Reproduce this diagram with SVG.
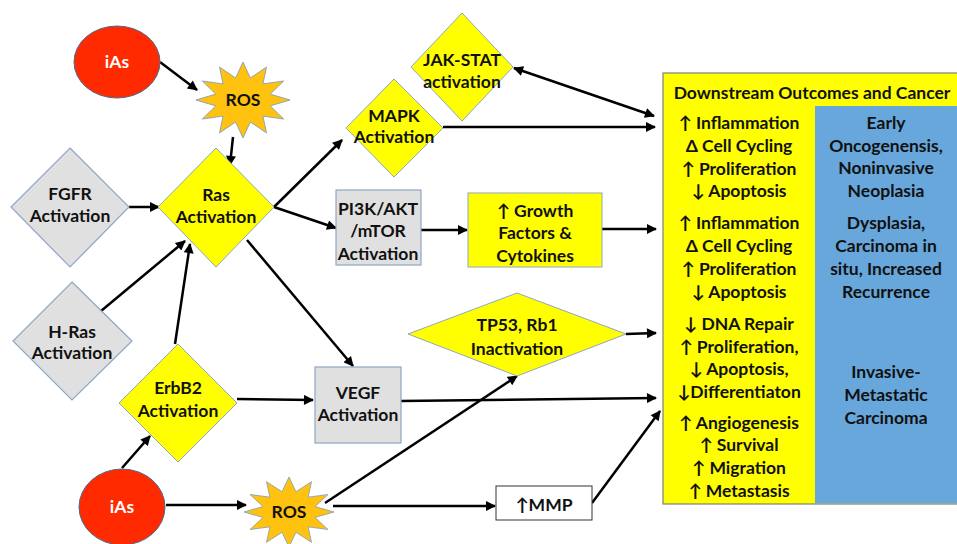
<svg xmlns="http://www.w3.org/2000/svg" xmlns:xlink="http://www.w3.org/1999/xlink" width="957" height="544" viewBox="0 0 957 544">
<style>
  text { font-family: Lato, "Liberation Sans", sans-serif; font-weight: bold; font-size: 17.5px; text-anchor: middle; fill: #111; }
  .ias { fill: #ff2a00; stroke: #4a6a90; stroke-width: 1; }
  .ias-t { fill: #ffffff; }
  .star { fill: #ffc20e; stroke: #7f9bbd; stroke-width: 1; }
  .ydia { fill: #ffff00; stroke: #8fa6c4; stroke-width: 1; }
  .gdia { fill: #e0e0e0; stroke: #8fa6c4; stroke-width: 1.2; }
  .gbox { fill: #e0e0e0; stroke: #8fa6c4; stroke-width: 1.2; }
  .ybox { fill: #ffff00; stroke: #8fa6c4; stroke-width: 1; }
  .wbox { fill: #ffffff; stroke: #333; stroke-width: 1; }
  .conn line { stroke: #000; stroke-width: 2.5; fill: none; }
</style>
<defs>
  <marker id="ah" viewBox="0 0 10 10" refX="9" refY="5" markerWidth="12" markerHeight="10" markerUnits="userSpaceOnUse" orient="auto-start-reverse">
    <path d="M0,0 L10,5 L0,10 z" fill="#000"/>
  </marker>
  <polygon id="starShape" points="0,-50 7.76,-28.98 25,-43.3 21.21,-21.21 43.3,-25 28.98,-7.76 50,0 28.98,7.76 43.3,25 21.21,21.21 25,43.3 7.76,28.98 0,50 -7.76,28.98 -25,43.3 -21.21,21.21 -43.3,25 -28.98,7.76 -50,0 -28.98,-7.76 -43.3,-25 -21.21,-21.21 -25,-43.3 -7.76,-28.98"/>
</defs>
<rect x="0" y="0" width="957" height="544" fill="#ffffff"/>

<g id="outcomes">
  <rect x="663" y="73" width="300" height="431" fill="#ffff00" stroke="#7f7f7f" stroke-width="1.2"/>
  <rect x="815" y="106" width="142" height="397.4" fill="#67a7db"/>
  <text x="812" y="99">Downstream Outcomes and Cancer</text>
  <text x="739" y="129">↑ Inflammation</text>
  <text x="739" y="152">Δ Cell Cycling</text>
  <text x="739" y="175">↑ Proliferation</text>
  <text x="739" y="197">↓ Apoptosis</text>
  <text x="739" y="229">↑ Inflammation</text>
  <text x="739" y="252">Δ Cell Cycling</text>
  <text x="739" y="275">↑ Proliferation</text>
  <text x="739" y="298">↓ Apoptosis</text>
  <text x="739" y="330">↓ DNA Repair</text>
  <text x="739" y="353">↑ Proliferation,</text>
  <text x="739" y="375">↓ Apoptosis,</text>
  <text x="739" y="398">↓Differentiaton</text>
  <text x="739" y="429">↑ Angiogenesis</text>
  <text x="739" y="451">↑ Survival</text>
  <text x="739" y="474">↑ Migration</text>
  <text x="739" y="497">↑ Metastasis</text>
  <text x="886" y="129">Early</text>
  <text x="886" y="152">Oncogenensis,</text>
  <text x="886" y="174">Noninvasive</text>
  <text x="886" y="197">Neoplasia</text>
  <text x="886" y="229">Dysplasia,</text>
  <text x="886" y="252">Carcinoma in</text>
  <text x="886" y="275">situ, Increased</text>
  <text x="886" y="298">Recurrence</text>
  <text x="886" y="378">Invasive-</text>
  <text x="886" y="401">Metastatic</text>
  <text x="886" y="424">Carcinoma</text>
</g>

<g class="conn">
  <line x1="160" y1="62" x2="197" y2="90" marker-end="url(#ah)"/>
  <line x1="233" y1="137" x2="230" y2="165" marker-end="url(#ah)"/>
  <line x1="129" y1="207" x2="159" y2="207" marker-end="url(#ah)"/>
  <line x1="101" y1="311" x2="185" y2="241" marker-end="url(#ah)"/>
  <line x1="175" y1="344" x2="190" y2="244" marker-end="url(#ah)"/>
  <line x1="274" y1="207" x2="342" y2="140" marker-end="url(#ah)"/>
  <line x1="274" y1="207" x2="336" y2="228" marker-end="url(#ah)"/>
  <line x1="247" y1="240" x2="353" y2="366" marker-end="url(#ah)"/>
  <line x1="237" y1="399" x2="313" y2="400" marker-end="url(#ah)"/>
  <line x1="122" y1="468" x2="150" y2="436" marker-end="url(#ah)"/>
  <line x1="166" y1="505" x2="246" y2="505" marker-end="url(#ah)"/>
  <line x1="325" y1="503" x2="517" y2="376" marker-end="url(#ah)"/>
  <line x1="333" y1="506" x2="495" y2="506" marker-end="url(#ah)"/>
  <line x1="592" y1="503" x2="660" y2="411" marker-end="url(#ah)"/>
  <line x1="626" y1="334" x2="656" y2="333" marker-end="url(#ah)"/>
  <line x1="401" y1="401" x2="656" y2="398" marker-end="url(#ah)"/>
  <line x1="602" y1="229" x2="656" y2="229" marker-end="url(#ah)"/>
  <line x1="411" y1="230" x2="467" y2="230" marker-end="url(#ah)"/>
  <line x1="443" y1="127" x2="655" y2="127" marker-end="url(#ah)"/>
  <line x1="514" y1="68" x2="654" y2="116" marker-start="url(#ah)" marker-end="url(#ah)"/>
</g>

<g id="iAs1">
  <ellipse class="ias" cx="117" cy="62" rx="43" ry="36"/>
  <text class="ias-t" x="117" y="68">iAs</text>
</g>
<g id="ROS1">
  <use xlink:href="#starShape" class="star" transform="translate(243,100) scale(0.94,0.76)" vector-effect="non-scaling-stroke"/>
  <text x="243" y="106">ROS</text>
</g>
<g id="FGFR">
  <polygon class="gdia" points="70,148 129,207 70,267 11,207"/>
  <text x="70" y="200">FGFR</text>
  <text x="70" y="222">Activation</text>
</g>
<g id="Ras">
  <polygon class="ydia" points="216,148 274,207 216,267 158,207"/>
  <text x="216" y="201">Ras</text>
  <text x="216" y="223">Activation</text>
</g>
<g id="HRas">
  <polygon class="gdia" points="72,282 132,341 72,400 13,341"/>
  <text x="72" y="338">H-Ras</text>
  <text x="72" y="359">Activation</text>
</g>
<g id="ErbB2">
  <polygon class="ydia" points="178,344 237,403 178,462 119,403"/>
  <text x="178" y="394">ErbB2</text>
  <text x="178" y="417">Activation</text>
</g>
<g id="iAs2">
  <ellipse class="ias" cx="122" cy="507" rx="43" ry="38"/>
  <text class="ias-t" x="122" y="513">iAs</text>
</g>
<g id="ROS2">
  <use xlink:href="#starShape" class="star" transform="translate(289,512) scale(0.9,0.7)" vector-effect="non-scaling-stroke"/>
  <text x="289" y="518">ROS</text>
</g>
<g id="JAKSTAT">
  <polygon class="ydia" points="462,13 513,67 462,121 411,67"/>
  <text x="462" y="66">JAK-STAT</text>
  <text x="462" y="88">activation</text>
</g>
<g id="MAPK">
  <polygon class="ydia" points="394,79 443,128 394,177 346,128"/>
  <text x="394" y="122">MAPK</text>
  <text x="394" y="143">Activation</text>
</g>
<g id="PI3K">
  <rect class="gbox" x="336" y="190" width="85" height="75"/>
  <text x="378" y="215">PI3K/AKT</text>
  <text x="378" y="237">/mTOR</text>
  <text x="378" y="260">Activation</text>
</g>
<g id="Growth">
  <rect class="ybox" x="468" y="193" width="134" height="74"/>
  <text x="535" y="217">↑ Growth</text>
  <text x="535" y="239">Factors &amp;</text>
  <text x="535" y="262">Cytokines</text>
</g>
<g id="TP53">
  <polygon class="ydia" points="517,293 626,334 517,376 408,334"/>
  <text x="517" y="331">TP53, Rb1</text>
  <text x="517" y="355">Inactivation</text>
</g>
<g id="VEGF">
  <rect class="gbox" x="315" y="367" width="86" height="76"/>
  <text x="358" y="399">VEGF</text>
  <text x="358" y="421">Activation</text>
</g>
<g id="MMP">
  <rect class="wbox" x="496" y="486" width="96" height="34"/>
  <text x="544" y="511">↑MMP</text>
</g>
</svg>
